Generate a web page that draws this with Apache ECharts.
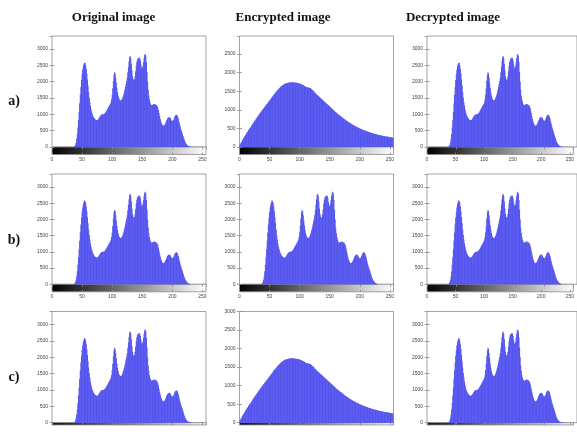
<!DOCTYPE html>
<html><head><meta charset="utf-8">
<script src="https://cdn.jsdelivr.net/npm/echarts@6/dist/echarts.min.js"></script>
<style>html,body{margin:0;padding:0;background:#fff}#c{width:577px;height:434px}</style>
</head><body><div id="c"></div>
<script>
// ---------- DATA ----------
const grayLevels = Array.from({length: 256}, (_, i) => i);

// histogram of the plain / decrypted image (counts per gray level 0..255)
const originalCounts = [
 0,0,0,0,0,0,0,0,0,0,0,0,0,0,0,0,
 0,0,0,0,0,0,0,0,0,0,0,0,0,0,0,0,
 0,0,0,0,0,10,30,70,140,250,400,600,830,1080,1340,1600,
 1840,2050,2230,2370,2470,2540,2580,2570,2510,2400,2250,2070,1880,1690,1520,1380,
 1260,1160,1080,1010,960,920,890,865,845,830,822,820,830,850,880,910,
 940,965,985,995,1000,1000,1005,1015,1035,1060,1090,1120,1155,1190,1225,1260,
 1290,1320,1370,1460,1600,1800,2030,2210,2290,2250,2130,1970,1810,1680,1580,1510,
 1460,1435,1425,1430,1450,1490,1540,1600,1670,1750,1840,1930,2020,2130,2280,2450,
 2620,2750,2790,2720,2550,2340,2170,2080,2050,2070,2160,2320,2490,2610,2680,2710,
 2720,2740,2720,2650,2530,2430,2410,2470,2590,2720,2820,2850,2790,2600,2300,2000,
 1750,1580,1460,1380,1320,1290,1280,1290,1300,1310,1320,1310,1300,1290,1280,1250,
 1200,1130,1040,950,860,790,730,690,660,650,655,670,700,740,790,830,
 870,895,910,915,905,880,840,810,800,805,830,880,930,965,980,985,
 970,930,870,800,720,640,570,510,460,400,340,280,220,170,130,100,
 75,55,40,28,18,10,6,4,2,1,0,0,0,0,0,0,
 0,0,0,0,0,0,0,0,0,0,0,0,0,0,0,0
];

// histogram of the encrypted image (counts per gray level 0..255)
const encryptedCounts = [
 30,60,95,125,150,185,205,240,260,295,320,340,375,400,420,455,
 470,505,520,540,575,590,625,650,665,695,720,740,770,790,805,840,
 860,875,910,925,945,975,985,1015,1035,1050,1080,1100,1115,1145,1160,1175,
 1205,1225,1245,1275,1290,1310,1340,1355,1375,1405,1420,1435,1465,1480,1495,1525,
 1540,1550,1580,1590,1605,1625,1635,1645,1665,1670,1675,1695,1700,1700,1715,1710,
 1720,1715,1730,1730,1725,1740,1730,1730,1745,1735,1725,1740,1730,1720,1735,1720,
 1720,1710,1718,1710,1695,1698,1690,1675,1678,1660,1662,1650,1635,1632,1620,1605,
 1610,1600,1603,1592,1590,1580,1582,1562,1553,1530,1522,1497,1488,1462,1452,1428,
 1415,1398,1388,1367,1357,1338,1327,1308,1297,1278,1268,1247,1238,1217,1207,1188,
 1177,1158,1147,1127,1118,1098,1088,1067,1058,1037,1028,1007,998,977,968,948,
 937,918,908,887,880,862,855,837,830,812,805,787,780,762,755,737,
 730,713,707,691,685,669,663,647,642,627,622,607,602,587,583,569,
 565,551,548,535,532,519,516,503,500,488,486,474,472,460,458,447,
 446,435,434,423,422,411,410,399,398,388,388,378,378,368,368,358,
 358,348,349,340,341,332,333,324,325,316,317,308,309,301,303,295,
 297,289,291,283,285,277,279,271,273,265,267,259,261,253,255,248
];

const columnTitles = ['Original image', 'Encrypted image', 'Decrypted image'];
const rowLabels = ['a)', 'b)', 'c)'];
const xTickStep = 50;
const yTickStep = 500;
// which histogram each panel shows [row][col]
const panelKinds = [
  ['original', 'encrypted', 'original'],
  ['original', 'original', 'original'],
  ['original', 'encrypted', 'original']
];
const yMaxByPanel = [
  [3400, 2980, 3400],
  [3400, 3400, 3400],
  [3400, 3000, 3400]
];

// ---------- LAYOUT ----------
const colLeft = [52, 239.5, 427];
const rowTop = [36, 174, 311.5];
const rowH = [111, 110.3, 111.2];
const rowCbH = [7.5, 7.5, 9];
const rowXLabelMargin = [2.5, 2.5, 14];
const plotW = 154;
const barColor = '#5252ee';
const axisColor = '#8a8a8a';
const labelStyle = {fontSize: 5, color: '#444', fontFamily: 'Liberation Sans', formatter: v => String(v)};

const chart = echarts.init(document.getElementById('c'), null, {renderer: 'canvas'});
const grids = [], xAxes = [], yAxes = [], series = [];
const countsByKind = {original: originalCounts, encrypted: encryptedCounts};

for (let r = 0; r < 3; r++) {
  for (let c = 0; c < 3; c++) {
    const L = colLeft[c], T = rowTop[r], H = rowH[r];
    const ymax = yMaxByPanel[r][c];
    const gHist = grids.length;
    grids.push({left: L, top: T, width: plotW, height: H, show: true,
      borderColor: axisColor, borderWidth: 0.8, backgroundColor: '#fff', containLabel: false});
    const gCb = grids.length;
    grids.push({left: L, top: T + H, width: plotW, height: rowCbH[r], show: true,
      borderColor: axisColor, borderWidth: 0.8, containLabel: false,
      backgroundColor: new echarts.graphic.LinearGradient(0, 0, 1, 0,
        [{offset: 0, color: '#000'}, {offset: 1, color: '#fff'}])});

    const xHist = xAxes.length;
    xAxes.push({type: 'value', gridIndex: gHist, min: 0, max: 256, interval: xTickStep,
      axisLine: {show: false}, axisLabel: {show: false}, splitLine: {show: false},
      axisTick: {show: false}});
    xAxes.push({type: 'value', gridIndex: gHist, position: 'top', min: 0, max: 256, interval: xTickStep,
      axisLine: {show: false}, axisLabel: {show: false}, splitLine: {show: false},
      axisTick: {show: true, inside: true, length: 2.5, lineStyle: {color: axisColor, width: 0.8}}});
    xAxes.push({type: 'value', gridIndex: gCb, min: 0, max: 256, interval: xTickStep,
      axisLine: {show: false}, splitLine: {show: false},
      axisLabel: Object.assign({show: true, margin: rowXLabelMargin[r], showMaxLabel: false}, labelStyle),
      axisTick: {show: true, inside: true, length: 2, lineStyle: {color: axisColor, width: 0.8}}});

    const yHist = yAxes.length;
    yAxes.push({type: 'value', gridIndex: gHist, min: 0, max: ymax, interval: yTickStep,
      axisLine: {show: false}, splitLine: {show: false},
      axisLabel: Object.assign({show: true, margin: 4, showMaxLabel: ymax % yTickStep === 0}, labelStyle),
      axisTick: {show: true, inside: true, length: 2.5, lineStyle: {color: axisColor, width: 0.8}}});
    yAxes.push({type: 'value', gridIndex: gHist, position: 'right', min: 0, max: ymax, interval: yTickStep,
      axisLine: {show: false}, splitLine: {show: false}, axisLabel: {show: false},
      axisTick: {show: true, inside: true, length: 2.5, lineStyle: {color: axisColor, width: 0.8}}});
    yAxes.push({type: 'value', gridIndex: gCb, min: 0, max: 1, show: false});

    const counts = countsByKind[panelKinds[r][c]];
    series.push({type: 'bar', xAxisIndex: xHist, yAxisIndex: yHist,
      data: grayLevels.map((g, i) => [g, counts[i]]),
      barWidth: 1, itemStyle: {color: barColor}, silent: true, animation: false});
  }
}

const graphic = [];
const titleX = [113.5, 283, 453];
columnTitles.forEach((t, i) => graphic.push({type: 'text', x: titleX[i], y: 18,
  style: {text: t, font: 'bold 13px "Liberation Serif"', fill: '#111', align: 'center', verticalAlign: 'middle'}}));
const rowLabelY = [101.5, 240, 377];
rowLabels.forEach((t, i) => graphic.push({type: 'text', x: 14, y: rowLabelY[i],
  style: {text: t, font: 'bold 14px "Liberation Serif"', fill: '#111', align: 'center', verticalAlign: 'middle'}}));

chart.setOption({animation: false, backgroundColor: '#fff',
  grid: grids, xAxis: xAxes, yAxis: yAxes, series: series, graphic: graphic});
</script></body></html>
